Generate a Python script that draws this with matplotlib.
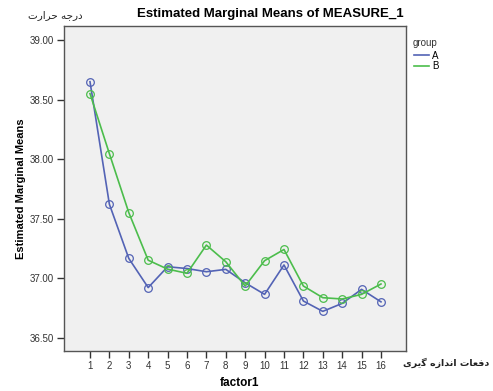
import matplotlib
matplotlib.use("Agg")
import matplotlib.pyplot as plt

factor1 = list(range(1, 17))
group_a = [38.65, 37.62, 37.165, 36.92, 37.095, 37.08, 37.053, 37.073, 36.96, 36.863,
           37.11, 36.807, 36.72, 36.787, 36.905, 36.80]
group_b = [38.55, 38.045, 37.55, 37.15, 37.075, 37.04, 37.277, 37.137, 36.933, 37.146,
           37.24, 36.933, 36.835, 36.824, 36.863, 36.95]
yticks = [36.5, 37.0, 37.5, 38.0, 38.5, 39.0]

plt.rcParams['font.family'] = ['Liberation Sans', 'DejaVu Sans']

fig = plt.figure(figsize=(4.93, 3.91), dpi=100)
ax = fig.add_axes([64/493, 1-351/391, (406-64)/493, (351-26)/391])
ax.set_facecolor('#f0f0f0')

blue = '#5363b5'
green = '#4cbd4c'
ax.plot(factor1, group_a, color=blue, lw=1.2, marker='o', mfc='none', mec=blue, ms=5.5, mew=0.9, label='A')
ax.plot(factor1, group_b, color=green, lw=1.2, marker='o', mfc='none', mec=green, ms=5.5, mew=0.9, label='B')

ax.set_xlim(-0.34, 17.29)
ax.set_ylim(36.387, 39.118)
ax.set_xticks(factor1)
ax.set_xticklabels([str(v) for v in factor1])
ax.set_yticks(yticks)
ax.set_yticklabels([f"{v:.2f}" for v in yticks])
ax.tick_params(axis='both', labelsize=7, colors='#333333', length=5, width=1, direction='out', pad=2)
for s in ax.spines.values():
    s.set_color('#555555')
    s.set_linewidth(1.0)

fig.text(270/493, 1-14/391, 'Estimated Marginal Means of MEASURE_1', ha='center', va='center',
         fontsize=9.5, fontweight='bold')
# Arabic text (presentation forms, visual order)
fig.text(55/493, 1-15/391, '\uFE95\uFEAD\uFE8D\uFEAE\uFEA3 \uFEEA\uFE9F\uFEAD\uFEA9',
         ha='center', va='center', fontsize=7.5, family=['DejaVu Sans'], color='#222222')
fig.text(489/493, 1-363/391,
         '\uFBFC\uFEAE\uFBFE\uFB94 \uFEE9\uFEAF\uFE8D\uFEAA\uFEE7\uFE8D \uFE95\uFE8E\uFECC\uFED3\uFEA9',
         ha='right', va='center', fontsize=6.8, fontweight='bold', family=['DejaVu Sans'], color='#222222')

ax.set_ylabel('Estimated Marginal Means', fontsize=8, fontweight='bold', labelpad=3)
fig.text(240/493, 1-383/391, 'factor1', ha='center', va='center', fontsize=8.5, fontweight='bold')

fig.text(413/493, 1-43/391, 'group', ha='left', va='center', fontsize=7, color='#333333')
leg = fig.legend(handles=ax.get_lines(), labels=['A', 'B'], loc='upper left',
                 bbox_to_anchor=(410/493, 1-47/391), frameon=False, fontsize=7,
                 handlelength=1.6, handletextpad=0.3, labelspacing=0.05, borderaxespad=0)
for h in leg.legend_handles:
    h.set_marker('')

fig.savefig('out.png', dpi=100)
